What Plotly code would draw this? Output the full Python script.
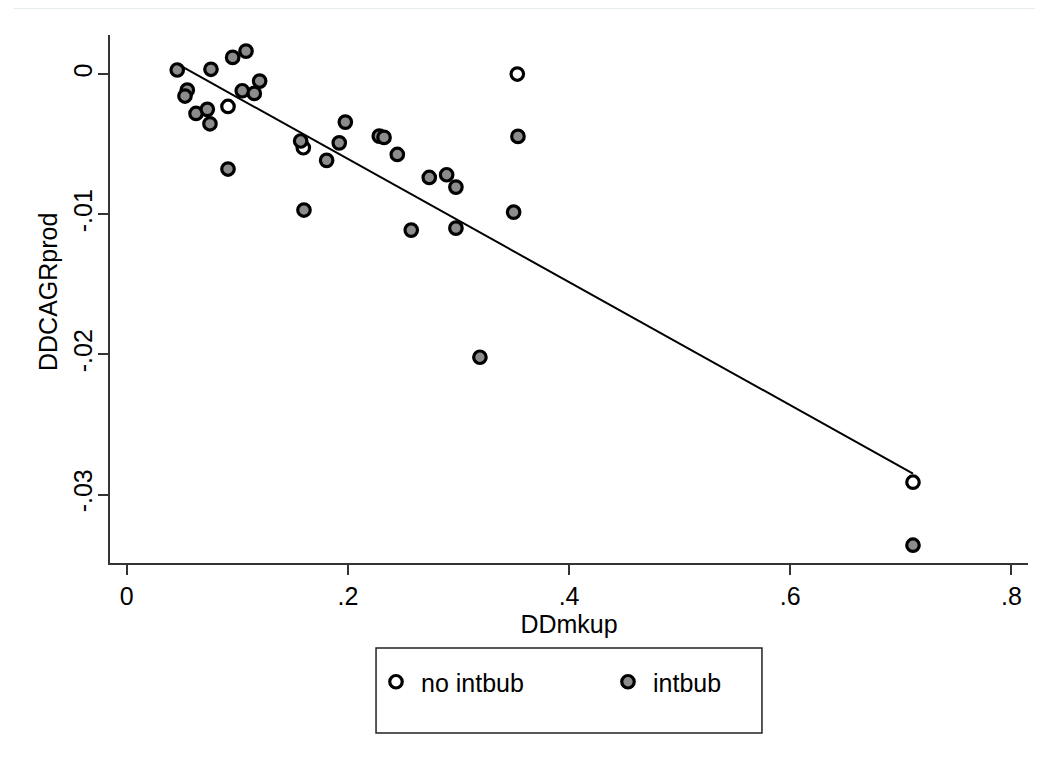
import plotly.graph_objects as go

# ---- data ----
x_no = [0.0916, 0.1597, 0.3532, 0.7110]
y_no = [-0.00229, -0.00524, 0.00002, -0.02912]

x_int = [0.0457, 0.0548, 0.0527, 0.0762, 0.0958, 0.1079, 0.1202, 0.1045, 0.1154,
         0.0627, 0.0729, 0.0753, 0.0916, 0.1573, 0.1977, 0.1922, 0.1808, 0.1603,
         0.2284, 0.2327, 0.2447, 0.2736, 0.2893, 0.2977, 0.2573, 0.2977, 0.3538,
         0.3499, 0.3194, 0.7110]
y_int = [0.00031, -0.00112, -0.00155, 0.00036, 0.00121, 0.00166, -0.00048, -0.00117,
         -0.00136, -0.00279, -0.00250, -0.00353, -0.00676, -0.00476, -0.00341,
         -0.00489, -0.00614, -0.00969, -0.00441, -0.00450, -0.00572, -0.00736,
         -0.00717, -0.00805, -0.01112, -0.01098, -0.00443, -0.00984, -0.02020,
         -0.03362]

fit_x = [0.0457, 0.7110]
fit_y = [0.00074, -0.0285]

x_ticks = [0, 0.2, 0.4, 0.6, 0.8]
x_ticklabels = ["0", ".2", ".4", ".6", ".8"]
y_ticks = [0, -0.01, -0.02, -0.03]
y_ticklabels = ["0", "-.01", "-.02", "-.03"]

FONT = "Liberation Sans, Arial, sans-serif"
FS = 25

fig = go.Figure()
fig.add_trace(go.Scatter(
    x=x_no, y=y_no, mode="markers", name="no intbub",
    marker=dict(size=12.5, color="white", line=dict(color="black", width=3.2)),
))
fig.add_trace(go.Scatter(
    x=x_int, y=y_int, mode="markers", name="intbub",
    marker=dict(size=12.5, color="#8c8c8c", line=dict(color="black", width=3.2)),
))
fig.add_trace(go.Scatter(
    x=fit_x, y=fit_y, mode="lines", showlegend=False,
    line=dict(color="black", width=2),
))

fig.update_layout(
    width=1035, height=755,
    margin=dict(l=102, r=15, t=27, b=200),
    paper_bgcolor="white", plot_bgcolor="white",
    font=dict(family=FONT, size=FS, color="black"),
    showlegend=True,
    legend=dict(
        orientation="h", x=0.2843, y=-0.2254, xanchor="left", yanchor="middle",
        entrywidth=177, entrywidthmode="pixels", itemwidth=40,
        font=dict(family=FONT, size=FS, color="black"),
        bgcolor="rgba(0,0,0,0)", borderwidth=0,
    ),
    xaxis=dict(
        range=[-0.0151, 0.815], tickvals=x_ticks, ticktext=x_ticklabels,
        showgrid=False, zeroline=False, showline=True, linecolor="#333333", linewidth=1.5,
        ticks="outside", ticklen=10, tickcolor="#333333", tickwidth=1.5,
        title=dict(text="DDmkup", standoff=0, font=dict(size=FS)),
        tickfont=dict(size=FS),
    ),
    yaxis=dict(
        range=[-0.03489, 0.00281], tickvals=y_ticks, ticktext=y_ticklabels,
        showgrid=False, zeroline=False, showline=True, linecolor="#333333", linewidth=1.5,
        ticks="outside", ticklen=10, tickcolor="#333333", tickwidth=1.5,
        tickangle=-90, ticklabelstandoff=-4,
        tickfont=dict(size=FS),
    ),
    annotations=[
        dict(text="DDCAGRprod", xref="paper", yref="paper", x=-0.0675, y=0.5133,
             xanchor="center", yanchor="middle", textangle=-90, showarrow=False,
             font=dict(family=FONT, size=FS, color="black")),
    ],
    shapes=[
        dict(type="rect", xref="paper", yref="paper", x0=0.2898, x1=0.7102,
             y0=-0.322, y1=-0.161, line=dict(color="#222222", width=1.5)),
        dict(type="line", xref="paper", yref="paper", x0=-0.105, x1=1.02,
             y0=1.0502, y1=1.0502, line=dict(color="#e6eded", width=1)),
    ],
)

fig.write_html("out.html")
